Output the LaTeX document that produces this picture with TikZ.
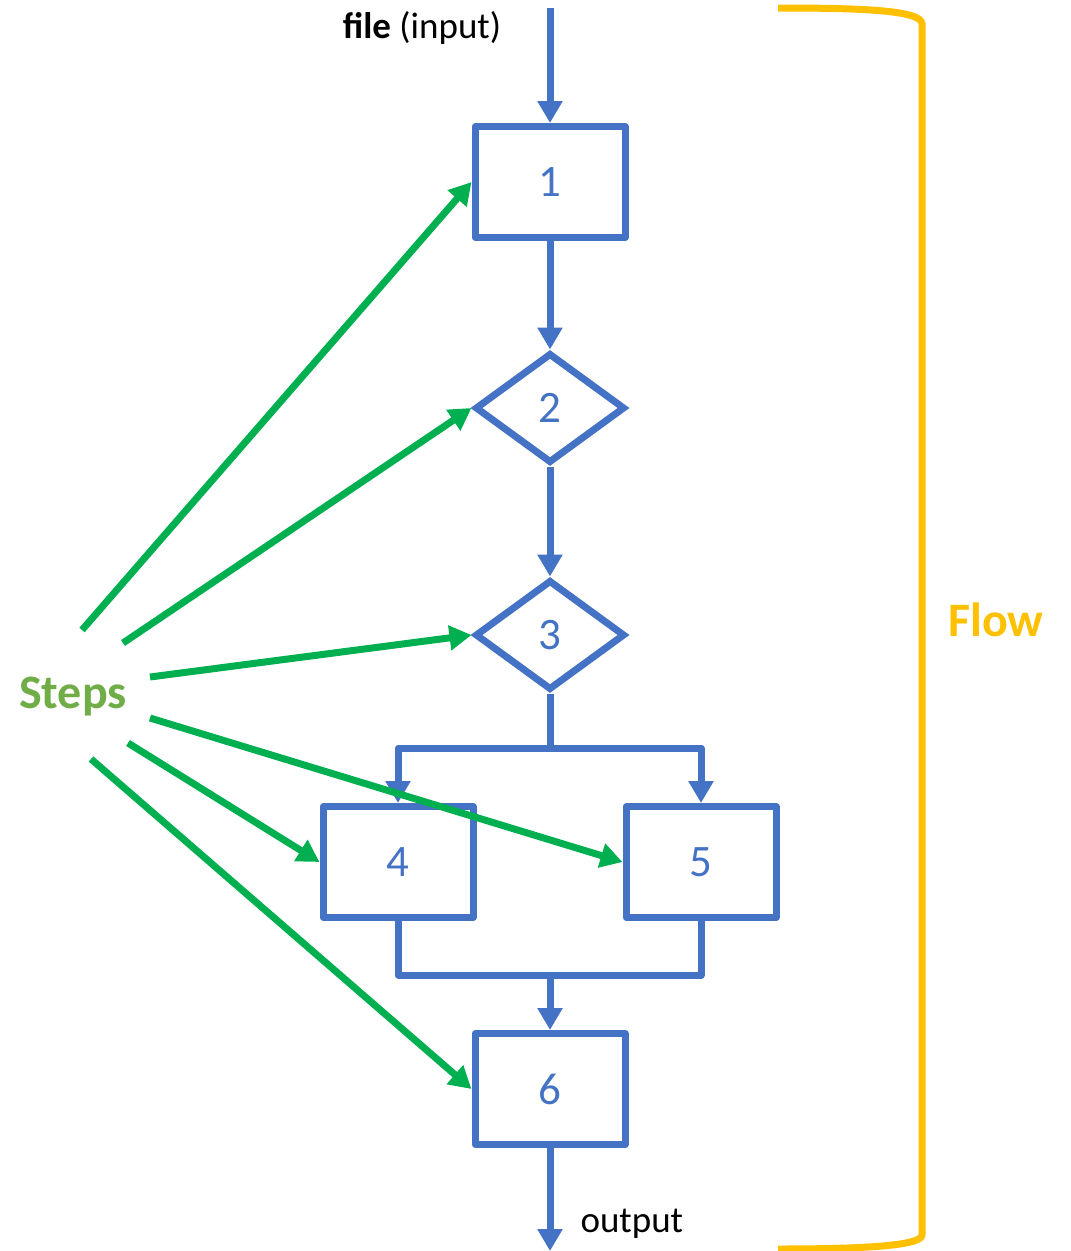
\documentclass[tikz,border=0pt]{standalone}
\usepackage{fontspec}
\setmainfont{Carlito}
\usetikzlibrary{arrows.meta,shapes.geometric}
\definecolor{flowblue}{HTML}{4472C4}
\definecolor{stepgreen}{HTML}{00B050}
\definecolor{steptext}{HTML}{70AD47}
\definecolor{flowgold}{HTML}{FFC000}
\begin{document}
\begin{tikzpicture}[x=1pt,y=-1pt,
  flow/.style={draw=flowblue,line width=7pt,line join=round},
  flowarrow/.style={flow,-{Triangle[length=22pt,width=24pt]}},
  stepbox/.style={draw=flowblue,line width=7pt,line join=round,rectangle,
    minimum width=150pt,minimum height=111pt,inner sep=0pt,text=flowblue,
    font=\fontsize{45}{48}\selectfont},
  decision/.style={draw=flowblue,line width=7pt,line join=miter,diamond,
    minimum width=150pt,minimum height=110pt,inner sep=0pt,aspect=1.36,text=flowblue,
    font=\fontsize{45}{48}\selectfont},
  pointer/.style={draw=stepgreen,line width=7pt,-{Triangle[length=22pt,width=24pt]}},
  bigword/.style={font=\fontsize{48}{52}\selectfont\bfseries},
  smallword/.style={font=\fontsize{37}{40}\selectfont,text=black}]
\useasboundingbox (0,0) rectangle (1071,1251);
% flow nodes
\node[stepbox] (b1) at (550,182) {1};
\node[decision] (d2) at (550,408) {2};
\node[decision] (d3) at (550,635) {3};
\node[stepbox] (b4) at (398,862) {4};
\node[stepbox] (b5) at (701,862) {5};
\node[stepbox] (b6) at (550,1089) {6};
\coordinate (in) at (550,8);
\coordinate (out) at (550,1251);
\coordinate (split) at (550,748);
\coordinate (merge) at (550,975);
% labels
\node[smallword] (filelbl) at (422,28) {\textbf{file} (input)};
\node[smallword,anchor=west] (outlbl) at (577,1224) {output};
\node[bigword,text=steptext] (steps) at (73,697) {Steps};
\node[bigword,text=flowgold] (flowlbl) at (996,620) {Flow};
% flow connectors
\draw[flowarrow] (in) -- (b1.north);
\draw[flowarrow] (b1.south) -- (d2.north);
\draw[flowarrow] (d2.south) -- (d3.north);
\draw[flow] (d3.south) -- (split);
\draw[flowarrow] (split) -| (b4.north);
\draw[flowarrow] (split) -| (b5.north);
\draw[flow] (b4.south) -- (b4.south |- merge) -- (b5.south |- merge) -- (b5.south);
\draw[flowarrow] (merge) -- (b6.north);
\draw[flowarrow] (b6.south) -- (out);
% step pointers
\coordinate (s1) at (82,630);
\coordinate (s2) at (123,643);
\coordinate (s3) at (150,677);
\coordinate (s4) at (150,718);
\coordinate (s5) at (128,743);
\coordinate (s6) at (91,759);
\draw[pointer] (s1) -- (b1.west);
\draw[pointer] (s2) -- (d2.west);
\draw[pointer] (s3) -- (d3.west);
\draw[pointer] (s4) -- (b5.west);
\draw[pointer] (s5) -- (b4.west);
\draw[pointer] (s6) -- (b6.west);
% bracket
\draw[draw=flowgold,line width=7pt,line cap=butt]
  (778,8) .. controls (860,8) and (922,10) .. (922,24) -- (922,1235)
  .. controls (922,1246) and (860,1249) .. (778,1249);
\end{tikzpicture}
\end{document}
